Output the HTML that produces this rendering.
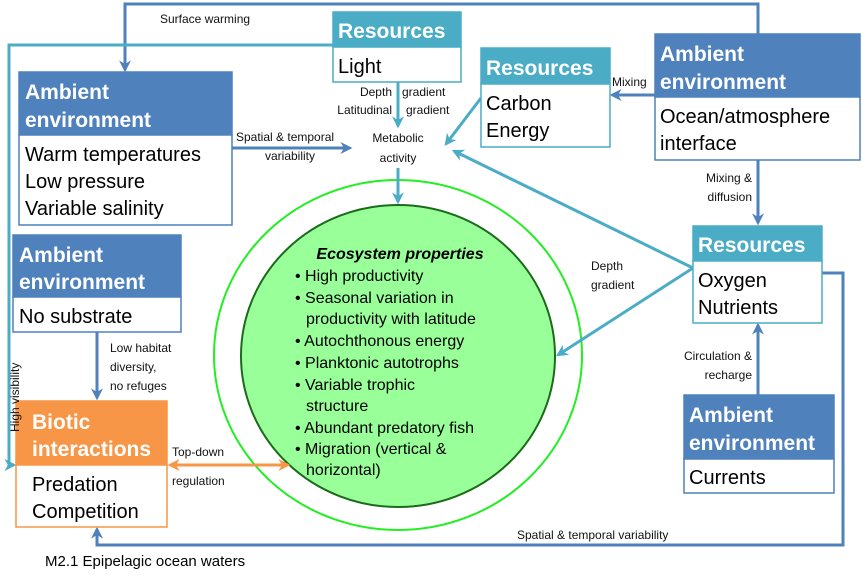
<!DOCTYPE html>
<html><head><meta charset="utf-8"><style>
body{margin:0;background:#fff}
svg{display:block;font-family:"Liberation Sans",sans-serif}
.h{fill:#fff;font-weight:bold;font-size:21px}
.b{fill:#000;font-size:20px}
.l{fill:#111;font-size:12px}
.e{fill:#000;font-size:16px}
</style></head><body>
<svg width="862" height="585" viewBox="0 0 862 585">
<defs>
<marker id="ab" viewBox="0 0 10 10" refX="8" refY="5" markerWidth="4" markerHeight="4" orient="auto-start-reverse"><path d="M0,0 L10,5 L0,10 L3,5z" fill="#4F81BD"/></marker>
<marker id="at" viewBox="0 0 10 10" refX="8" refY="5" markerWidth="4" markerHeight="4" orient="auto-start-reverse"><path d="M0,0 L10,5 L0,10 L3,5z" fill="#4BACC6"/></marker>
<marker id="ao" viewBox="0 0 10 10" refX="8" refY="5" markerWidth="4" markerHeight="4" orient="auto-start-reverse"><path d="M0,0 L10,5 L0,10 L3,5z" fill="#F79646"/></marker>
</defs>
<ellipse cx="398" cy="355" rx="184" ry="175" fill="#fff" stroke="#22EE22" stroke-width="2"/>
<ellipse cx="398" cy="356" rx="157" ry="151" fill="#99FF99" stroke="#1a6b1a" stroke-width="2"/>
<g fill="none" stroke-width="3">
<path d="M758,34 V4 H125 V70" stroke="#4F81BD" marker-end="url(#ab)"/>
<path d="M333,45 H9 V465 H14" stroke="#4BACC6" marker-end="url(#at)"/>
<path d="M398,82 V126" stroke="#4BACC6" marker-end="url(#at)"/>
<path d="M232,148 H350" stroke="#4F81BD" marker-end="url(#ab)"/>
<path d="M398,168 V202" stroke="#4BACC6" marker-end="url(#at)"/>
<path d="M481,98 L446,144" stroke="#4BACC6" marker-end="url(#at)"/>
<path d="M693,268 L454,151" stroke="#4BACC6" marker-end="url(#at)"/>
<path d="M693,268 L558,355" stroke="#4BACC6" marker-end="url(#at)"/>
<path d="M655,95 H612" stroke="#4F81BD" marker-end="url(#ab)"/>
<path d="M758,160 V223" stroke="#4F81BD" marker-end="url(#ab)"/>
<path d="M758,395 V325" stroke="#4F81BD" marker-end="url(#ab)"/>
<path d="M822,273 H843 V545 H97 V529" stroke="#4F81BD" marker-end="url(#ab)"/>
<path d="M97,332 V398" stroke="#4F81BD" marker-end="url(#ab)"/>
<path d="M170,465 H288" stroke="#F79646" marker-start="url(#ao)" marker-end="url(#ao)"/>
</g>
<g stroke-width="1.5">
<rect x="333" y="12" width="128" height="35" fill="#4BACC6" stroke="#4BACC6"/><rect x="333" y="47" width="128" height="35" fill="#fff" stroke="#4BACC6"/>
<rect x="481" y="48" width="129" height="36" fill="#4BACC6" stroke="#4BACC6"/><rect x="481" y="84" width="129" height="63" fill="#fff" stroke="#4BACC6"/>
<rect x="655" y="34" width="205" height="63" fill="#4F81BD" stroke="#4F81BD"/><rect x="655" y="97" width="205" height="63" fill="#fff" stroke="#4F81BD"/>
<rect x="19" y="72" width="213" height="63" fill="#4F81BD" stroke="#4F81BD"/><rect x="19" y="135" width="213" height="90" fill="#fff" stroke="#4F81BD"/>
<rect x="13" y="235" width="168" height="62" fill="#4F81BD" stroke="#4F81BD"/><rect x="13" y="297" width="168" height="35" fill="#fff" stroke="#4F81BD"/>
<rect x="16" y="401" width="151" height="64" fill="#F79646" stroke="#F79646"/><rect x="16" y="465" width="151" height="62" fill="#fff" stroke="#F79646"/>
<rect x="693" y="226" width="129" height="35" fill="#4BACC6" stroke="#4BACC6"/><rect x="693" y="261" width="129" height="62" fill="#fff" stroke="#4BACC6"/>
<rect x="684" y="395" width="150" height="64" fill="#4F81BD" stroke="#4F81BD"/><rect x="684" y="459" width="150" height="34" fill="#fff" stroke="#4F81BD"/>
</g>
<text class="h" x="338" y="38">Resources</text><text class="b" x="338" y="73">Light</text>
<text class="h" x="486" y="75">Resources</text><text class="b" x="486" y="110">Carbon</text><text class="b" x="486" y="137">Energy</text>
<text class="h" x="660" y="61">Ambient</text><text class="h" x="660" y="89">environment</text><text class="b" x="660" y="123">Ocean/atmosphere</text><text class="b" x="660" y="150">interface</text>
<text class="h" x="25" y="99">Ambient</text><text class="h" x="25" y="127">environment</text><text class="b" x="25" y="161">Warm temperatures</text><text class="b" x="25" y="188">Low pressure</text><text class="b" x="25" y="215">Variable salinity</text>
<text class="h" x="19" y="262">Ambient</text><text class="h" x="19" y="289">environment</text><text class="b" x="19" y="323">No substrate</text>
<text class="h" x="32" y="429">Biotic</text><text class="h" x="32" y="456">interactions</text><text class="b" x="32" y="491">Predation</text><text class="b" x="32" y="518">Competition</text>
<text class="h" x="698" y="252">Resources</text><text class="b" x="698" y="287">Oxygen</text><text class="b" x="698" y="314">Nutrients</text>
<text class="h" x="689" y="422">Ambient</text><text class="h" x="689" y="450">environment</text><text class="b" x="689" y="484">Currents</text>
<text class="l" x="160" y="23">Surface warming</text>
<text class="l" x="392" y="96" text-anchor="end">Depth</text><text class="l" x="392" y="114" text-anchor="end">Latitudinal</text>
<text class="l" x="402" y="96">gradient</text><text class="l" x="406" y="114">gradient</text>
<text class="l" x="236" y="141">Spatial &amp; temporal</text><text class="l" x="265" y="160">variability</text>
<text class="l" x="398" y="142" text-anchor="middle">Metabolic</text><text class="l" x="398" y="162" text-anchor="middle">activity</text>
<text class="l" x="612" y="86">Mixing</text>
<text class="l" x="752" y="182" text-anchor="end">Mixing &amp;</text><text class="l" x="752" y="201" text-anchor="end">diffusion</text>
<text class="l" x="591" y="270">Depth</text><text class="l" x="591" y="289">gradient</text>
<text class="l" x="752" y="360" text-anchor="end">Circulation &amp;</text><text class="l" x="752" y="379" text-anchor="end">recharge</text>
<text class="l" x="110" y="352">Low habitat</text><text class="l" x="110" y="371">diversity,</text><text class="l" x="110" y="390">no refuges</text>
<text class="l" x="172" y="456">Top-down</text><text class="l" x="172" y="485">regulation</text>
<text class="l" x="517" y="539">Spatial &amp; temporal variability</text>
<text class="l" transform="translate(19,432) rotate(-90)">High visibility</text>
<text x="45" y="566" style="font-size:15px;fill:#000">M2.1 Epipelagic ocean waters</text>
<text class="e" x="400" y="259" text-anchor="middle" font-weight="bold" font-style="italic">Ecosystem properties</text>
<g class="e">
<text x="295" y="281">•  High productivity</text>
<text x="295" y="303">•  Seasonal variation in</text>
<text x="306" y="324">productivity with latitude</text>
<text x="295" y="346">•  Autochthonous energy</text>
<text x="295" y="368">•  Planktonic autotrophs</text>
<text x="295" y="390">•  Variable trophic</text>
<text x="306" y="411">structure</text>
<text x="295" y="433">•  Abundant predatory fish</text>
<text x="295" y="454">•  Migration (vertical &amp;</text>
<text x="306" y="475">horizontal)</text>
</g>
</svg>
</body></html>
